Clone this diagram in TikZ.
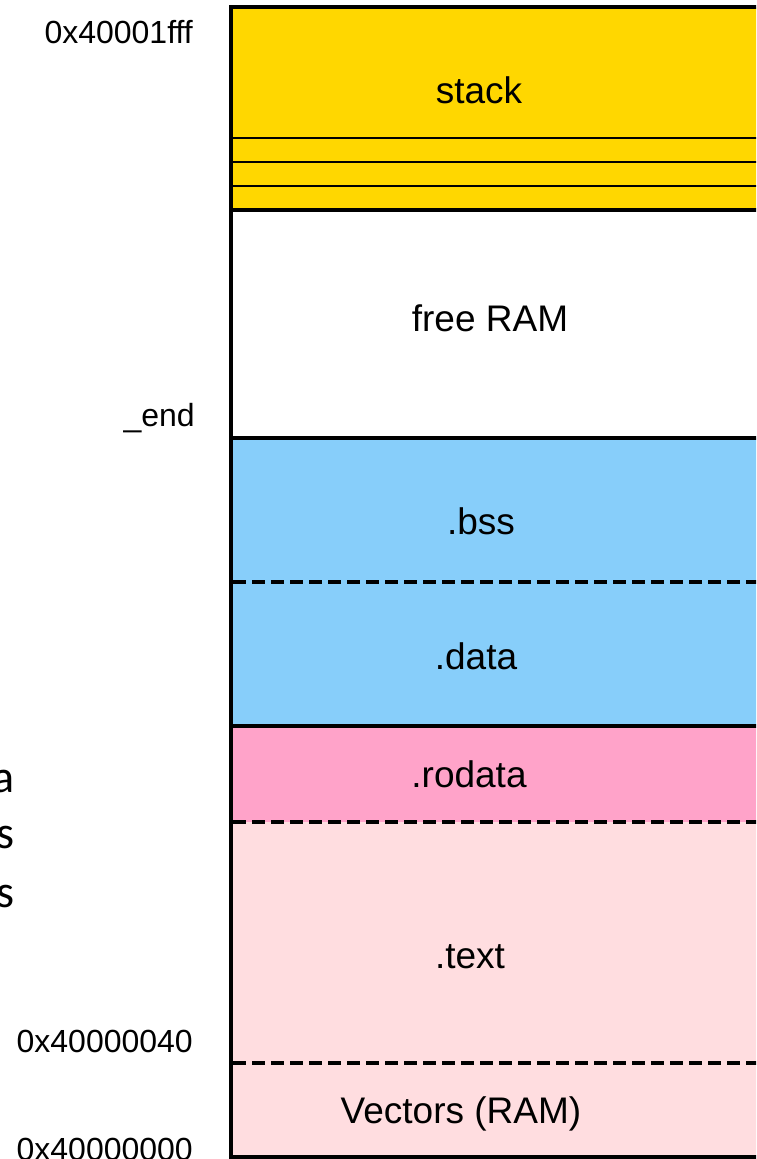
\documentclass[tikz,border=0pt]{standalone}
\usepackage{fontspec}
\setmainfont{Liberation Sans}
\newfontfamily\calibri{Carlito}
\usetikzlibrary{positioning}
\definecolor{stackgold}{HTML}{FFD700}
\definecolor{bssblue}{HTML}{87CEFA}
\definecolor{rodatapink}{HTML}{FFA3C9}
\definecolor{textpink}{HTML}{FFDDE0}

\begin{document}
\begin{tikzpicture}[x=1pt, y=-1pt]
    % Styles
    \tikzstyle{seclabel} = [anchor=base, inner sep=0pt, font=\fontsize{37}{44}\selectfont]
    \tikzstyle{addr} = [anchor=base east, inner sep=0pt, font=\fontsize{32}{38}\selectfont]
    \tikzstyle{frag} = [anchor=base east, inner sep=0pt, font=\calibri\fontsize{46}{55}\selectfont]
    \tikzstyle{solidsep} = [draw, line width=4pt]
    \tikzstyle{thinsep} = [draw, line width=2pt]
    \tikzstyle{dashsep} = [draw, line width=3.5pt, dash pattern=on 13pt off 6pt]

    \useasboundingbox (0,0) rectangle (756,1159);
    \clip (0,0) rectangle (756,1159);

    % Regions
    \fill[stackgold] (231,7) rectangle (800,210);
    \fill[white] (231,210) rectangle (800,438);
    \fill[bssblue] (231,438) rectangle (800,726);
    \fill[rodatapink] (231,726) rectangle (800,822);
    \fill[textpink] (231,822) rectangle (800,1157);

    % Stack slots
    \draw[thinsep] (231,138) -- (800,138);
    \draw[thinsep] (231,162) -- (800,162);
    \draw[thinsep] (231,186) -- (800,186);

    % Section borders
    \draw[solidsep] (231,210) -- (800,210);
    \draw[solidsep] (231,438) -- (800,438);
    \draw[dashsep] (233,582) -- (800,582);
    \draw[solidsep] (231,726) -- (800,726);
    \draw[dashsep] (233,822) -- (800,822);
    \draw[dashsep] (233,1063) -- (800,1063);

    % Outer frame
    \draw[solidsep] (800,7) -- (231,7) -- (231,1157) -- (800,1157);

    % Section names
    \node[seclabel] (stack) at (479,103) {stack};
    \node[seclabel] (free) at (490,331) {free RAM};
    \node[seclabel] (bss) at (481,534) {.bss};
    \node[seclabel] (data) at (476,669) {.data};
    \node[seclabel] (rodata) at (469,787) {.rodata};
    \node[seclabel] (text) at (470,968) {.text};
    \node[seclabel] (vectors) at (461,1123) {Vectors (RAM)};

    % Addresses
    \node[addr] (top) at (193,43) {0x40001fff};
    \node[addr] (end) at (195,426) {\_end};
    \node[addr] (vecend) at (193,1052) {0x40000040};
    \node[addr] (base) at (193,1160) {0x40000000};

    % Cut-off text on the left
    \node[frag] (fraga) at (15,792) {a};
    \node[frag] (fragb) at (15,848) {s};
    \node[frag] (fragc) at (15,907) {s};
\end{tikzpicture}
\end{document}
